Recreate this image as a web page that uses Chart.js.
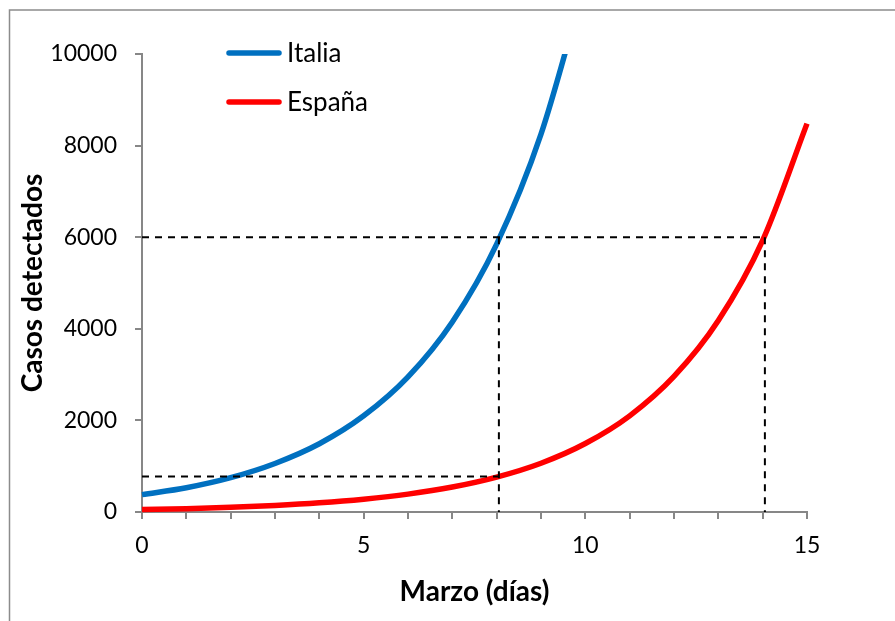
<!DOCTYPE html>
<html>
<head>
<meta charset="utf-8">
<script src="https://cdn.jsdelivr.net/npm/chart.js@4.4.1/dist/chart.umd.min.js"></script>
<style>
  html, body { margin: 0; padding: 0; background: #ffffff; }
  #wrap { width: 895px; height: 621px; }
</style>
</head>
<body>
<div id="wrap"><canvas id="c" width="895" height="621"></canvas></div>
<script>
// ---- Data ----
const seriesNames = ['Italia', 'España'];
const italiaDays = [0, 1, 2, 3, 4, 5, 6, 7, 8, 9, 10];
const italiaCases = [380, 530, 750, 1060, 1490, 2100, 2950, 4150, 5850, 8250, 11600];
const espanaDays = [0, 1, 2, 3, 4, 5, 6, 7, 8, 9, 10, 11, 12, 13, 14, 15];
const espanaCases = [52, 73, 102, 143, 200, 280, 390, 545, 762, 1065, 1495, 2100, 2960, 4180, 5930, 8480];
// Dashed guide lines
const guideDays = [8.05, 14.05];
const guideCases = [777, 6000];
const xTickLabels = ['0', '5', '10', '15'];
const yTickLabels = ['0', '2000', '4000', '6000', '8000', '10000'];
const xTitle = 'Marzo (días)';
const yTitle = 'Casos detectados';

const toPts = (xs, ys) => xs.map((x, i) => ({ x: x, y: ys[i] }));

const FONT = 'Lato, "Open Sans", sans-serif';
const AXIS_GREY = '#878787';

const guideStyle = {
  borderColor: '#000000',
  borderWidth: 2,
  borderDash: [7, 6],
  pointRadius: 0,
  fill: false,
  tension: 0,
  order: 0,
  isGuide: true
};

const datasets = [
  Object.assign({ label: 'g1', data: [{ x: 0, y: guideCases[1] }, { x: guideDays[1], y: guideCases[1] }] }, guideStyle),
  Object.assign({ label: 'g2', data: [{ x: guideDays[0], y: guideCases[1] }, { x: guideDays[0], y: 0 }] }, guideStyle),
  Object.assign({ label: 'g3', data: [{ x: guideDays[1], y: guideCases[1] }, { x: guideDays[1], y: 0 }] }, guideStyle),
  Object.assign({ label: 'g4', data: [{ x: 0, y: guideCases[0] }, { x: guideDays[0], y: guideCases[0] }] }, guideStyle),
  {
    label: seriesNames[0],
    data: toPts(italiaDays, italiaCases),
    borderColor: '#0070C0',
    borderWidth: 5.5,
    pointRadius: 0,
    cubicInterpolationMode: 'monotone',
    fill: false,
    order: 1,
    clip: { left: 10, top: 0, right: 10, bottom: 10 }
  },
  {
    label: seriesNames[1],
    data: toPts(espanaDays, espanaCases),
    borderColor: '#FF0000',
    borderWidth: 5.5,
    pointRadius: 0,
    cubicInterpolationMode: 'monotone',
    fill: false,
    order: 1,
    clip: { left: 10, top: 0, right: 10, bottom: 10 }
  }
];

// Background + outer frame
const framePlugin = {
  id: 'frame',
  beforeDraw(chart) {
    const ctx = chart.ctx;
    ctx.save();
    ctx.fillStyle = '#ffffff';
    ctx.fillRect(0, 0, chart.width, chart.height);
    ctx.strokeStyle = '#8c8c8c';
    ctx.lineWidth = 1.5;
    ctx.beginPath();
    ctx.moveTo(9.5, chart.height + 5);
    ctx.lineTo(9.5, 10);
    ctx.lineTo(chart.width + 5, 10);
    ctx.stroke();
    ctx.restore();
  }
};

// Legend drawn inside the plot area (top-left)
const insideLegend = {
  id: 'insideLegend',
  afterDatasetsDraw(chart) {
    const ctx = chart.ctx;
    const items = chart.data.datasets.filter(d => !d.isGuide);
    ctx.save();
    items.forEach((d, i) => {
      const y = 53 + i * 49;
      ctx.strokeStyle = d.borderColor;
      ctx.lineWidth = 5.5;
      ctx.lineCap = 'round';
      ctx.beginPath();
      ctx.moveTo(229, y);
      ctx.lineTo(279, y);
      ctx.stroke();
      ctx.fillStyle = '#000000';
      ctx.font = '26px ' + FONT;
      ctx.textAlign = 'left';
      ctx.textBaseline = 'middle';
      ctx.fillText(d.label, 287, y + 1);
    });
    ctx.restore();
  }
};

new Chart(document.getElementById('c'), {
  type: 'line',
  data: { datasets: datasets },
  plugins: [framePlugin, insideLegend],
  options: {
    responsive: false,
    animation: false,
    devicePixelRatio: 1,
    layout: { padding: { top: 54, right: 88, bottom: 0, left: 0 } },
    plugins: {
      legend: { display: false },
      tooltip: { enabled: false }
    },
    scales: {
      x: {
        type: 'linear',
        min: 0,
        max: 15,
        afterFit(s) { s.height = 109; },
        grid: {
          drawOnChartArea: false,
          drawTicks: true,
          tickLength: 7,
          color: AXIS_GREY,
          lineWidth: 2
        },
        border: { color: AXIS_GREY, width: 2 },
        ticks: {
          stepSize: 1,
          autoSkip: false,
          maxRotation: 0,
          padding: 13,
          color: '#000000',
          font: { family: FONT, size: 23 },
          callback(v) {
            const i = xTickLabels.indexOf(String(v));
            return i >= 0 ? xTickLabels[i] : '';
          }
        },
        title: {
          display: true,
          text: xTitle,
          color: '#000000',
          font: { family: FONT, size: 28, weight: 'bold' },
          padding: { top: 0, bottom: 12 }
        }
      },
      y: {
        type: 'linear',
        min: 0,
        max: 10000,
        afterFit(s) { s.width = 142; },
        grid: {
          drawOnChartArea: false,
          drawTicks: true,
          tickLength: 7,
          color: AXIS_GREY,
          lineWidth: 2
        },
        border: { color: AXIS_GREY, width: 2 },
        ticks: {
          stepSize: 2000,
          autoSkip: false,
          padding: 18,
          color: '#000000',
          font: { family: FONT, size: 23 },
          callback(v) {
            const i = yTickLabels.indexOf(String(v));
            return i >= 0 ? yTickLabels[i] : '';
          }
        },
        title: {
          display: true,
          text: yTitle,
          color: '#000000',
          font: { family: FONT, size: 28, weight: 'bold' },
          padding: { top: 16, bottom: 0 }
        }
      }
    }
  }
});
</script>
</body>
</html>
